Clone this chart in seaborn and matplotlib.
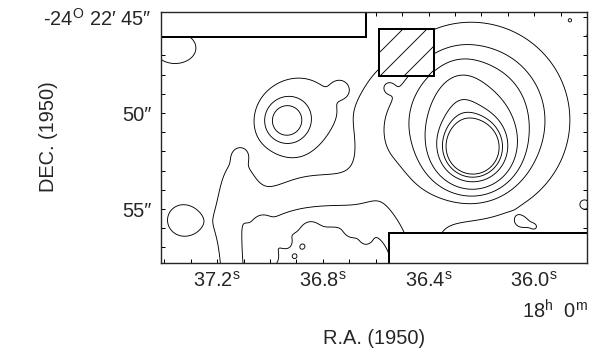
import numpy as np
import matplotlib
matplotlib.use("Agg")
import matplotlib.pyplot as plt
from matplotlib.patches import Rectangle
import seaborn as sns

# emission components (RA in s of time, DEC in arcsec, widths in arcsec)
comp_name = ["core", "halo", "broad", "tongue", "ridge", "sec_core", "sec_broad",
             "plat_a", "plat_b", "plat_c", "plat_w", "blob_sw", "blob_nw"]
comp_ra = [36.231, 36.261, 36.205, 36.280, 36.591, 36.941, 36.886,
           36.981, 36.773, 36.583, 37.133, 37.333, 37.360]
comp_dec = [51.93, 50.36, 50.36, 49.32, 51.67, 50.44, 49.58,
            58.18, 58.18, 58.44, 54.27, 55.57, 46.61]
comp_amp = [14.9, 4.0, 1.8, 1.2, 0.5, 3.0, 1.2,
            2.4, 2.4, 2.4, 1.2, 1.4, 1.5]
comp_sx = [1.04, 2.40, 3.39, 0.78, 0.73, 0.83, 1.875,
           1.98, 1.98, 1.98, 0.78, 0.89, 1.2]
comp_sy = [1.04, 2.40, 3.39, 1.15, 2.6, 0.83, 1.875,
           2.71, 2.71, 2.71, 1.82, 0.89, 0.9]

# small knots and holes seen in the low-level emission
knot_ra = [36.939, 36.875, 36.773, 36.716, 37.000, 36.848, 37.027, 36.640,
           37.114, 37.360, 35.864, 35.977, 35.795, 35.807, 35.902, 35.996,
           36.553, 36.735, 36.905, 36.690, 36.053]
knot_dec = [56.77, 56.98, 56.98, 57.76, 57.55, 55.99, 55.68, 56.61,
            52.19, 52.81, 45.16, 45.26, 45.94, 54.79, 55.31, 55.99,
            48.65, 48.70, 57.50, 56.20, 55.70]
knot_amp = [-0.8, -0.7, -0.8, -0.9, -0.9, 0.6, 0.6, -0.7,
            0.6, 0.9, 0.8, 0.5, 0.8, 0.9, 0.6, 0.6,
            0.7, 0.6, -0.8, -0.6, 0.5]
knot_s = [0.21, 0.21, 0.31, 0.31, 0.31, 0.31, 0.26, 0.26,
          0.31, 0.31, 0.26, 0.26, 0.31, 0.42, 0.31, 0.42,
          0.26, 0.31, 0.26, 0.31, 0.31]

levels = [1, 2, 3, 4.5, 7, 9, 10.5]

ra_lim = (37.413, 35.80)
dec_lim = (57.81, 44.74)

ra_ticks = [37.2, 36.8, 36.4, 36.0]
ra_labels = ["37.2$^{\\rm s}$", "36.8$^{\\rm s}$", "36.4$^{\\rm s}$", "36.0$^{\\rm s}$"]
dec_ticks = [45, 50, 55]
dec_labels = ["-24$^{\\rm O}$ 22\u2032 45\u2033", "50\u2033", "55\u2033"]

# masked areas
box_nw = (36.636, 46.04)      # right edge RA, bottom DEC
box_hatch = (36.587, 36.379, 45.63, 48.07)
box_se = (36.549, 56.25)      # left edge RA, top DEC

sns.set_style("ticks")
plt.rcParams["font.family"] = ["Liberation Sans", "DejaVu Sans"]
plt.rcParams["mathtext.fontset"] = "custom"
plt.rcParams["mathtext.rm"] = "Liberation Sans"
plt.rcParams["hatch.linewidth"] = 0.9

# %%
ra = np.linspace(35.78, 37.43, 600)
dec = np.linspace(44.6, 57.9, 450)
RA, DEC = np.meshgrid(ra, dec)
Z = np.zeros_like(RA)
for r0, d0, a, sx, sy in zip(comp_ra + knot_ra, comp_dec + knot_dec,
                             comp_amp + knot_amp, comp_sx + knot_s, comp_sy + knot_s):
    dx = (RA - r0) * 13.75
    dy = DEC - d0
    Z += a * np.exp(-0.5 * ((dx / sx) ** 2 + (dy / sy) ** 2))

fig = plt.figure(figsize=(598 / 72, 357 / 72), dpi=72)
ax = fig.add_axes([161 / 598, 94 / 357, 426 / 598, 251 / 357])

ax.contour(RA, DEC, Z, levels=levels, colors="black", linewidths=0.9)

ax.add_patch(Rectangle((box_nw[0], 44.0), 2.0, box_nw[1] - 44.0,
                       facecolor="white", edgecolor="black", lw=2, zorder=3))
ax.add_patch(Rectangle((box_hatch[1], box_hatch[2]), box_hatch[0] - box_hatch[1],
                       box_hatch[3] - box_hatch[2], facecolor="white",
                       edgecolor="black", hatch="/", lw=2, zorder=3))
ax.add_patch(Rectangle((35.0, box_se[1]), box_se[0] - 35.0, 3.0,
                       facecolor="white", edgecolor="black", lw=2, zorder=3))

ax.set_xlim(ra_lim)
ax.set_ylim(dec_lim)
ax.set_xticks(ra_ticks)
ax.set_xticklabels(ra_labels)
ax.set_xticks(np.arange(35.8, 37.45, 0.1), minor=True)
ax.set_yticks(dec_ticks)
ax.set_yticklabels(dec_labels)
ax.set_yticks(np.arange(45, 58, 1), minor=True)
ax.tick_params(which="both", direction="in", top=True, right=True,
               length=4, width=1, labelsize=20, color="black")
ax.tick_params(axis="x", pad=8)
ax.tick_params(axis="y", pad=9)
for s in ax.spines.values():
    s.set_linewidth(1.4)
    s.set_zorder(4)

fig.text(588 / 598, 1 - 311 / 357, "18$^{\\rm h}$  0$^{\\rm m}$", fontsize=20,
         ha="right", va="center")
fig.text(374 / 598, 1 - 338 / 357, "R.A. (1950)", fontsize=20, ha="center", va="center")
fig.text(49 / 598, 1 - 137 / 357, "DEC. (1950)", fontsize=20, ha="center",
         va="center", rotation=90)

fig.savefig("out.png", dpi=72, facecolor="white")
